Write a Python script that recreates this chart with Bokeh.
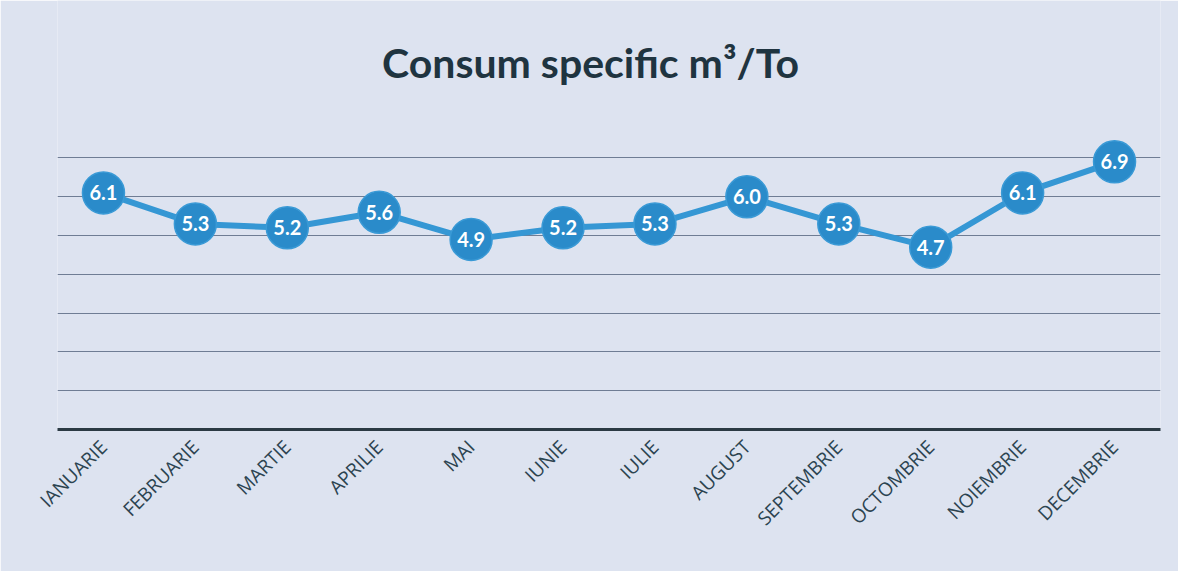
from bokeh.plotting import figure
from bokeh.models import ColumnDataSource, FixedTicker, Range1d, Label
from bokeh.core.properties import value
from bokeh.embed import file_html
from bokeh.resources import INLINE
import math

# Monthly specific consumption (m3 per tonne)
months = ["IANUARIE", "FEBRUARIE", "MARTIE", "APRILIE", "MAI", "IUNIE",
          "IULIE", "AUGUST", "SEPTEMBRIE", "OCTOMBRIE", "NOIEMBRIE", "DECEMBRIE"]
consum = [6.1, 5.3, 5.2, 5.6, 4.9, 5.2, 5.3, 6.0, 5.3, 4.7, 6.1, 6.9]
grid_ticks = [0, 1, 2, 3, 4, 5, 6, 7]
title_text = "Consum specific m³/To"

src = ColumnDataSource(dict(
    month=months,
    val=consum,
    lbl=[f"{v:.1f}" for v in consum],
))

BG = "#dde3f0"

# plot area reaches the top edge; the heading sits in the free space above 7
p = figure(width=1178, height=571, x_range=months,
           y_range=Range1d(0, 11.06),
           output_backend="svg", toolbar_location=None,
           min_border_left=57, min_border_right=18,
           min_border_top=0, min_border_bottom=142,
           background_fill_color=BG, border_fill_color=BG,
           outline_line_color=None)

p.add_layout(Label(x=533, y=367, x_units="screen", y_units="screen",
                   text=title_text, text_font="Lato", text_font_size="41px",
                   text_font_style="bold", text_color="#1f3440",
                   text_align="center", text_baseline="middle"))

# line and markers
p.line("month", "val", source=src, line_color="#3597d4", line_width=6)
p.scatter("month", "val", source=src, size=42, fill_color="#2a8bca",
          line_color="#3a9ad6", line_width=1.5)
p.text("month", "val", text="lbl", source=src,
       text_font=value("Lato"), text_font_style="bold",
       text_font_size="20px", text_color="white",
       text_align="center", text_baseline="middle")

# axes
p.yaxis.visible = False
p.yaxis.ticker = FixedTicker(ticks=grid_ticks)
p.ygrid.ticker = FixedTicker(ticks=grid_ticks)
p.ygrid.grid_line_color = "#6f7d94"
p.ygrid.grid_line_width = 1.2
p.xgrid.visible = False

xa = p.xaxis[0]
xa.axis_line_color = "#2b3a44"
xa.axis_line_width = 3
xa.major_tick_line_color = None
xa.minor_tick_line_color = None
xa.major_label_orientation = math.pi / 4
xa.major_label_text_font = "Open Sans"
xa.major_label_text_font_size = "19px"
xa.major_label_text_color = "#2c4450"
xa.major_label_standoff = 8

open("out.html", "w").write(file_html(p, INLINE))
